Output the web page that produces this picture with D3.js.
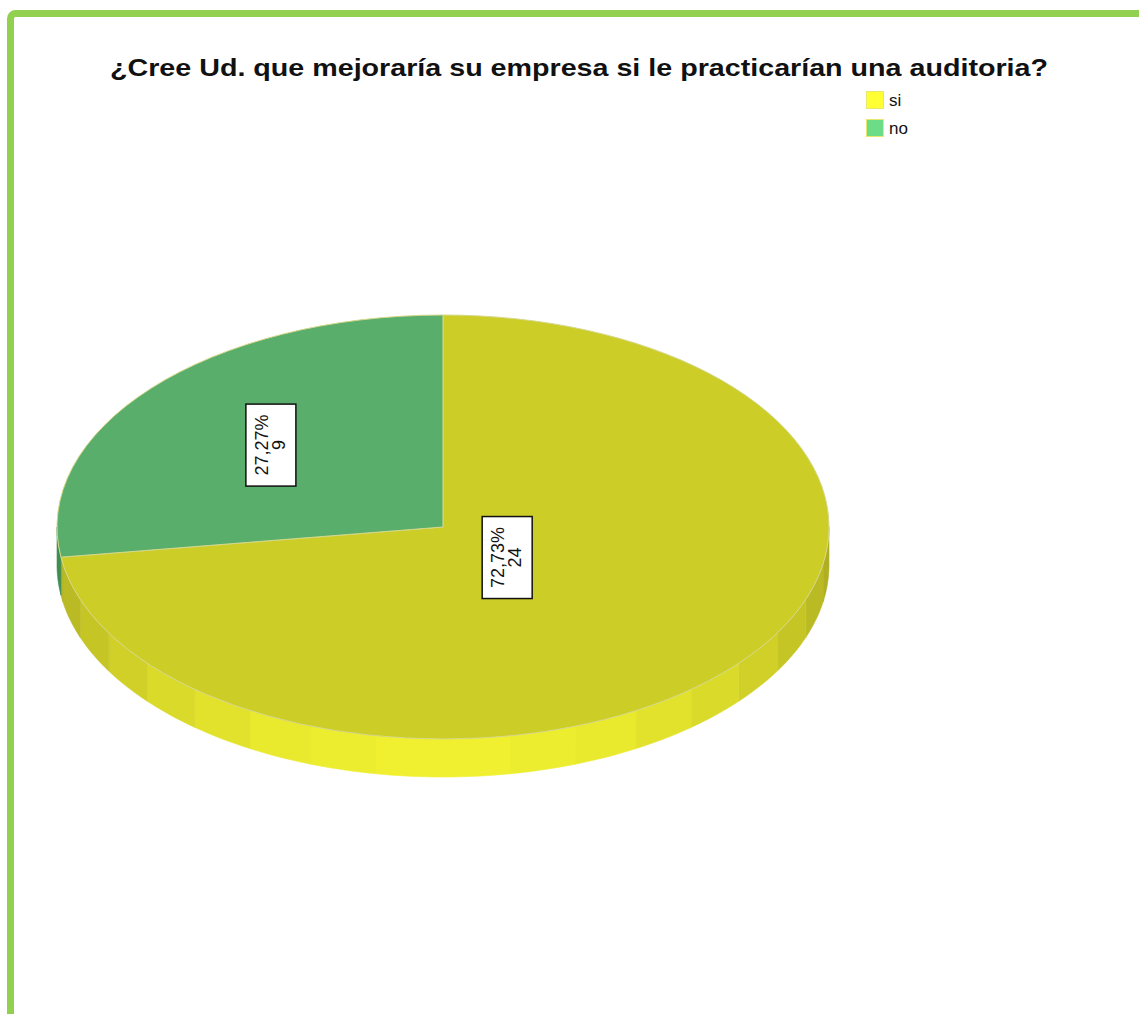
<!DOCTYPE html>
<html>
<head>
<meta charset="utf-8">
<script src="https://cdn.jsdelivr.net/npm/d3@7"></script>
<style>
  body { margin: 0; background: #fff; }
  svg { display: block; font-family: "Liberation Sans", Arial, sans-serif; }
</style>
</head>
<body>
<svg id="chart"></svg>
<script>
// data
const categories = ["si", "no"];
const counts = [24, 9];
const percentLabels = ["72,73%", "27,27%"];
const legendColors = ["#ffff33", "#6ddc86"];
const topColors = ["#cdcd28", "#5aae6b"];
const title = "¿Cree Ud. que mejoraría su empresa si le practicarían una auditoria?";

const W = 1139, H = 1014;
const cx = 443, cy = 527, rx = 386, ry = 212, depth = 38;
const labelFrac = [0.22, 0.59];

const svg = d3.select("#chart").attr("width", W).attr("height", H);

// green frame
svg.append("rect")
  .attr("x", 10.5).attr("y", 13.5)
  .attr("width", 1300).attr("height", 1200)
  .attr("rx", 5)
  .attr("fill", "none")
  .attr("stroke", "#92d050")
  .attr("stroke-width", 7);

svg.append("text")
  .attr("x", 110).attr("y", 76)
  .attr("font-size", 24).attr("font-weight", "bold")
  .attr("textLength", 938).attr("lengthAdjust", "spacingAndGlyphs")
  .attr("fill", "#111")
  .text(title);

// legend
let legend = svg.append("g").attr("transform", "translate(866,91)");
categories.forEach(function(c, i) {
  legend.append("rect")
    .attr("x", 0.5).attr("y", i * 28 + 0.5)
    .attr("width", 17).attr("height", 17)
    .attr("fill", legendColors[i])
    .attr("stroke", "#e8e870").attr("stroke-width", 1);
  legend.append("text")
    .attr("x", 23).attr("y", i * 28 + 15)
    .attr("font-size", 17).attr("fill", "#111")
    .text(c);
});

let pie = d3.pie().sort(null);
let arcs = pie(counts);

// point on the ellipse, angle as in d3 (0 = 12 o'clock, clockwise)
function pt(a, dy) {
  return [cx + rx * Math.sin(a), cy - ry * Math.cos(a) + (dy || 0)];
}

let yellowSide = d3.interpolateRgb("#aaaa20", "#f0f030");
let greenSide = d3.interpolateRgb("#3c8a4e", "#6ac07c");

// side walls, drawn in facets
let side = svg.append("g");
let step = Math.PI / 18;
arcs.forEach(function(d, i) {
  let a0 = Math.max(d.startAngle, Math.PI / 2);
  let a1 = Math.min(d.endAngle, 3 * Math.PI / 2);
  if (a1 <= a0) return;
  for (let s = a0; s < a1 - 1e-6; s += step) {
    let e = Math.min(s + step, a1);
    let pts = [];
    for (let k = 0; k <= 8; k++) pts.push(pt(s + (e - s) * k / 8, 0));
    for (let k = 8; k >= 0; k--) pts.push(pt(s + (e - s) * k / 8, depth));
    let t = Math.pow(Math.max(0, -Math.cos((s + e) / 2)), 1.1);
    let col = i === 0 ? yellowSide(t) : greenSide(t);
    side.append("path")
      .attr("d", d3.line()(pts) + "Z")
      .attr("fill", col)
      .attr("stroke", col).attr("stroke-width", 0.6);
  }
});

// top face: circular arcs squashed into the ellipse
let arc = d3.arc().innerRadius(0).outerRadius(rx);
svg.append("g")
  .attr("transform", "translate(" + cx + "," + cy + ") scale(1," + (ry / rx) + ")")
  .selectAll("path")
  .data(arcs)
  .join("path")
    .attr("d", arc)
    .attr("fill", function(d, i) { return topColors[i]; })
    .attr("stroke", "#d6d88a")
    .attr("stroke-width", 1)
    .attr("vector-effect", "non-scaling-stroke");

// value labels, rotated boxes
let bw = 50, bh = 82;
arcs.forEach(function(d, i) {
  let m = (d.startAngle + d.endAngle) / 2;
  let x = cx + rx * labelFrac[i] * Math.sin(m);
  let y = cy - ry * labelFrac[i] * Math.cos(m);
  let g = svg.append("g").attr("transform", "translate(" + x + "," + y + ")");
  g.append("rect")
    .attr("x", -bw / 2).attr("y", -bh / 2)
    .attr("width", bw).attr("height", bh)
    .attr("fill", "#fff").attr("stroke", "#111").attr("stroke-width", 1.5);
  let t = g.append("text")
    .attr("transform", "rotate(-90)")
    .attr("text-anchor", "middle")
    .attr("font-size", 18).attr("fill", "#111");
  t.append("tspan").attr("x", 0).attr("y", -3).text(percentLabels[i]);
  t.append("tspan").attr("x", 0).attr("y", 14).text(counts[i]);
});
</script>
</body>
</html>
